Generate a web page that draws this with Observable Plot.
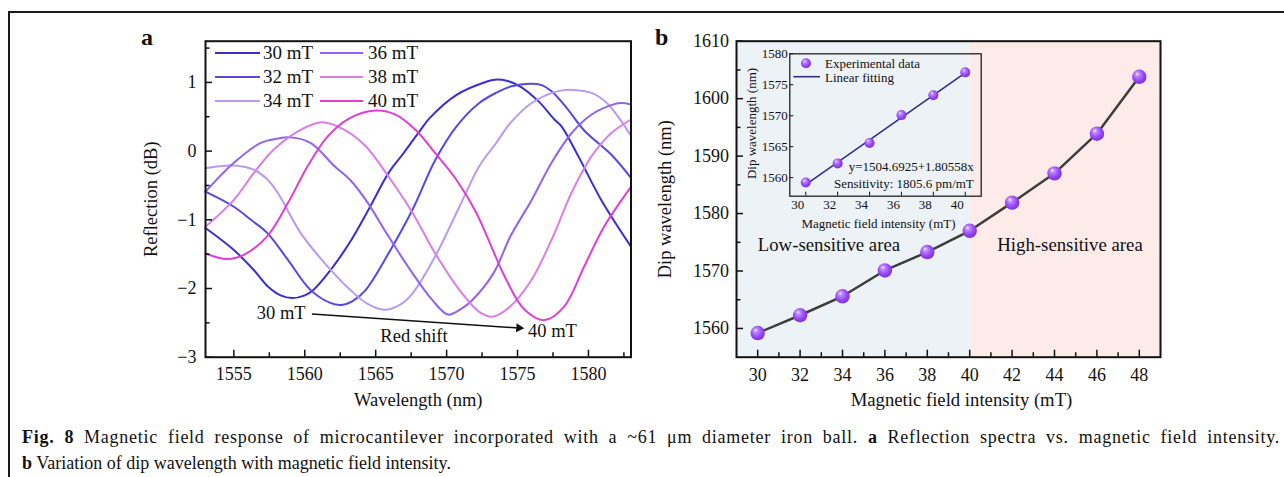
<!DOCTYPE html>
<html><head><meta charset="utf-8">
<script src="https://cdn.jsdelivr.net/npm/d3@7"></script>
<script src="https://cdn.jsdelivr.net/npm/@observablehq/plot@0.6"></script>
<style>
html,body{margin:0;padding:0;background:#fff;}
body{width:1284px;height:477px;position:relative;overflow:hidden;font-family:"Liberation Serif","Times New Roman",serif;color:#111;}
.abs{position:absolute;}
#border{position:absolute;left:8px;top:11px;width:1400px;height:600px;border-left:2px solid #1a1a1a;border-top:2px solid #1a1a1a;}
.lg{position:absolute;font-size:19px;line-height:19px;white-space:nowrap;}
.lgline{position:absolute;height:0;border-top:2px solid;}
.cap{position:absolute;left:22px;font-size:18px;white-space:nowrap;line-height:26px;}
.plab{position:absolute;font-weight:bold;font-size:24px;line-height:24px;}
</style>
</head><body>
<svg width="0" height="0" style="position:absolute">
  <defs>
    <radialGradient id="sphere" cx="0.45" cy="0.42" r="0.62" fx="0.34" fy="0.28">
      <stop offset="0" stop-color="#f6ecff"/>
      <stop offset="0.22" stop-color="#c08bff"/>
      <stop offset="0.65" stop-color="#9645f2"/>
      <stop offset="1" stop-color="#7a2fd9"/>
    </radialGradient>
  </defs>
</svg>
<div id="border"></div>
<div class="plab" style="left:141px;top:25px;">a</div>
<div class="plab" style="left:655px;top:25px;">b</div>
<div id="pa" class="abs" style="left:130px;top:20px;"></div>
<div id="pb" class="abs" style="left:640px;top:20px;"></div>
<div id="pi" class="abs" style="left:740px;top:40px;"></div>
<div id="legA"></div>
<div id="legI"></div>
<div id="cap1" class="cap" style="top:424px;"><b>Fig. 8</b> Magnetic field response of microcantilever incorporated with a ~61 μm diameter iron ball. <b>a</b> Reflection spectra vs. magnetic field intensity.</div>
<div class="cap" style="top:450px;"><b>b</b> Variation of dip wavelength with magnetic field intensity.</div>
<script>
// ---------- Panel a data: reflection spectra [wavelength nm, reflection dB] ----------
const s30 = [[1553,-1.12],[1555,-1.44],[1556.4,-1.73],[1557.4,-1.97],[1558.3,-2.10],[1559.1,-2.14],[1560.0,-2.10],[1560.6,-2.02],[1562.0,-1.68],[1563.2,-1.32],[1564.5,-0.85],[1565.9,-0.32],[1567.0,-0.02],[1568.1,0.29],[1568.8,0.48],[1570.7,0.82],[1572.8,1.01],[1573.4,1.04],[1574.3,1.02],[1575.2,0.94],[1576.5,0.72],[1577.6,0.46],[1578.1,0.36],[1579.3,-0.08],[1580.9,-0.71],[1583,-1.39]];
const s32 = [[1553,-0.59],[1555,-0.81],[1556.2,-1.0],[1557.35,-1.19],[1558.8,-1.58],[1560.4,-2.02],[1561.8,-2.21],[1562.6,-2.24],[1563.4,-2.18],[1564.3,-2.02],[1565.9,-1.49],[1567.6,-0.85],[1569.2,-0.13],[1570.7,0.36],[1572.3,0.70],[1573.5,0.85],[1574.5,0.94],[1575.9,0.98],[1576.7,0.96],[1577.4,0.87],[1578.5,0.62],[1579.7,0.30],[1581.6,-0.05],[1583,-0.39]];
const s34 = [[1553,-0.25],[1554,-0.22],[1555,-0.21],[1556.4,-0.27],[1557.3,-0.40],[1558.1,-0.61],[1559.7,-1.19],[1561.4,-1.63],[1563.1,-2.0],[1564.4,-2.22],[1565.6,-2.31],[1566.7,-2.24],[1567.6,-2.07],[1569.2,-1.53],[1570.9,-0.81],[1572.3,-0.22],[1573.5,0.12],[1574.5,0.41],[1576,0.70],[1577.8,0.87],[1579.0,0.89],[1580.3,0.84],[1581.3,0.70],[1582.2,0.47],[1583,0.22]];
const s36 = [[1553,-0.59],[1555,-0.17],[1556.9,0.12],[1558,0.18],[1559,0.20],[1560.4,0.12],[1562.1,-0.22],[1563.2,-0.42],[1564.3,-0.71],[1565.9,-1.24],[1567.6,-1.78],[1569.0,-2.17],[1570.1,-2.38],[1571.0,-2.30],[1571.8,-2.17],[1573.3,-1.78],[1574.5,-1.24],[1576,-0.71],[1577.4,-0.17],[1578.8,0.26],[1580.2,0.53],[1581.6,0.67],[1582.3,0.70],[1583,0.68]];
const s38 = [[1553,-1.10],[1555,-0.71],[1556.4,-0.32],[1557.8,0.02],[1559.7,0.31],[1561.2,0.42],[1562.8,0.31],[1564.3,0.07],[1565.9,-0.37],[1567.6,-0.90],[1569.2,-1.49],[1570.9,-2.02],[1572.3,-2.34],[1573.25,-2.41],[1574.5,-2.26],[1576,-1.87],[1577.4,-1.29],[1578.8,-0.61],[1580.2,-0.08],[1581.6,0.26],[1583,0.46]];
const s40 = [[1553,-1.49],[1554.5,-1.57],[1555.7,-1.51],[1557.35,-1.24],[1558.8,-0.76],[1560.2,-0.22],[1561.6,0.21],[1563,0.46],[1565,0.59],[1566.4,0.53],[1567.8,0.31],[1569.2,-0.03],[1570.7,-0.42],[1572.1,-0.90],[1573.3,-1.46],[1574.1,-1.83],[1575.5,-2.31],[1576.9,-2.46],[1578.3,-2.26],[1579.7,-1.68],[1581.1,-1.10],[1583,-0.52]];
const seriesNames = ["30 mT","32 mT","34 mT","36 mT","38 mT","40 mT"];
const seriesData = [s30, s32, s34, s36, s38, s40];
const seriesColors = ["#3b2dd6","#5549e2","#b89af2","#9163ee","#da7ee6","#df3fd3"];
const aXTicks = [1555,1560,1565,1570,1575,1580];
const aXMinor = [1557.5,1562.5,1567.5,1572.5,1577.5,1582.5];
const aYTicks = [-3,-2,-1,0,1];
const aYMinor = [-2.5,-1.5,-0.5,0.5,1.5];

// ---------- Panel b data ----------
const fieldB = [30,32,34,36,38,40,42,44,46,48];
const dipB = [1559.2,1562.3,1565.6,1570.1,1573.3,1577.0,1581.9,1587.0,1593.9,1603.8];
const bXTicks = [30,32,34,36,38,40,42,44,46,48];
const bXMinor = [31,33,35,37,39,41,43,45,47];
const bYTicks = [1560,1570,1580,1590,1600,1610];
const bYMinor = [1565,1575,1585,1595,1605];
const lowZone = [29,40];
const highZone = [40,49];
// inset
const fieldI = [30,32,34,36,38,40];
const dipI = [1559.2,1562.3,1565.6,1570.1,1573.3,1577.0];
const fitX = [30,40];
const fitY = [1558.86,1576.91];
const iXTicks = [30,32,34,36,38,40];
const iYTicks = [1560,1565,1570,1575,1580];

const FONT = "Liberation Serif, Times New Roman, serif";
const INK = "#111";

// ---------- Panel a ----------
(function(){
  const W=510,H=395,mL=75,mR=9.5,mT=20.7,mB=58.3;
  const fw=W-mL-mR, fh=H-mT-mB;
  const marks = [];
  seriesData.forEach((s,i)=>marks.push(Plot.line(s,{x:d=>d[0],y:d=>d[1],stroke:seriesColors[i],strokeWidth:2,curve:"catmull-rom"})));
  marks.push(
    Plot.tickX(aXTicks,{x:d=>d,insetTop:fh-7,stroke:INK,strokeWidth:1.5}),
    Plot.tickX(aXMinor,{x:d=>d,insetTop:fh-4.5,stroke:INK,strokeWidth:1.5}),
    Plot.tickY(aYTicks,{y:d=>d,insetRight:fw-7,stroke:INK,strokeWidth:1.5}),
    Plot.tickY(aYMinor,{y:d=>d,insetRight:fw-4.5,stroke:INK,strokeWidth:1.5}),
    Plot.frame({stroke:INK,strokeWidth:2}),
    Plot.axisX(aXTicks,{tickSize:0,tickPadding:10,tickFormat:"d",label:null,fontSize:18,fill:INK}),
    Plot.axisY(aYTicks,{tickSize:0,tickPadding:9,tickFormat:"d",label:null,fontSize:18,fill:INK}),
    Plot.text(["Wavelength (nm)"],{text:d=>d,frameAnchor:"bottom",lineAnchor:"middle",textAnchor:"middle",dy:43.3,fontSize:18.5,fill:INK}),
    Plot.text(["Reflection (dB)"],{text:d=>d,frameAnchor:"left",lineAnchor:"middle",textAnchor:"middle",rotate:-90,dx:-54,fontSize:18.5,fill:INK}),
    // annotations
    Plot.link([0],{x1:[1560.5],y1:[-2.37],x2:[1575.1],y2:[-2.575],stroke:INK,strokeWidth:1.5}),
    Plot.dot([0],{x:[1575.48],y:[-2.58],dx:-5.4,dy:-0.4,symbol:"triangle",r:3.4,rotate:93.9,fill:INK,stroke:"none"}),
    Plot.text(["30 mT"],{text:d=>d,x:[1560.06],y:[-2.355],textAnchor:"end",fontSize:18.5,fill:INK}),
    Plot.text(["40 mT"],{text:d=>d,x:[1575.74],y:[-2.62],textAnchor:"start",fontSize:18.5,fill:INK}),
    Plot.text(["Red shift"],{text:d=>d,x:[1567.7],y:[-2.69],textAnchor:"middle",fontSize:18.5,fill:INK})
  );
  const p = Plot.plot({width:W,height:H,marginLeft:mL,marginRight:mR,marginTop:mT,marginBottom:mB,
    x:{domain:[1553,1583]},y:{domain:[-3,1.6]},
    style:{fontFamily:FONT,fontSize:"18px",background:"transparent",color:INK},marks});
  document.getElementById("pa").appendChild(p);
})();

// legend a (HTML)
(function(){
  const el=document.getElementById("legA");
  const rows=[53.3,77.3,100.7];
  const cols=[{l1:215,l2:260,t:263},{l1:320,l2:363,t:368}];
  seriesNames.forEach((n,i)=>{
    const c=cols[Math.floor(i/3)], r=rows[i%3];
    const ln=document.createElement("div");ln.className="lgline";
    ln.style.cssText=`left:${c.l1}px;top:${r-1}px;width:${c.l2-c.l1}px;border-color:${seriesColors[i]}`;
    el.appendChild(ln);
    const t=document.createElement("div");t.className="lg";t.textContent=n;
    t.style.cssText=`left:${c.t}px;top:${r-10}px;`;
    el.appendChild(t);
  });
})();

// ---------- Panel b ----------
(function(){
  const W=640,H=395,mL=96,mR=120,mT=20.7,mB=58.3;
  const fw=W-mL-mR, fh=H-mT-mB;
  const pts=fieldB.map((f,i)=>({f,d:dipB[i]}));
  const p=Plot.plot({width:W,height:H,marginLeft:mL,marginRight:mR,marginTop:mT,marginBottom:mB,
    x:{domain:[29,49]},y:{domain:[1555,1610]},
    style:{fontFamily:FONT,fontSize:"18px",background:"transparent",color:INK},
    marks:[
      Plot.rect([lowZone],{x1:d=>d[0],x2:d=>d[1],fill:"#edf2f6"}),
      Plot.rect([highZone],{x1:d=>d[0],x2:d=>d[1],fill:"#fcebe8"}),
      Plot.tickX(bXTicks,{x:d=>d,insetTop:fh-7,stroke:INK,strokeWidth:1.5}),
      Plot.tickX(bXMinor,{x:d=>d,insetTop:fh-4.5,stroke:INK,strokeWidth:1.5}),
      Plot.tickY(bYTicks,{y:d=>d,insetRight:fw-7,stroke:INK,strokeWidth:1.5}),
      Plot.tickY(bYMinor,{y:d=>d,insetRight:fw-4.5,stroke:INK,strokeWidth:1.5}),
      Plot.line(pts,{x:"f",y:"d",stroke:"#3d3d3d",strokeWidth:2.5}),
      Plot.dot(pts,{x:"f",y:"d",r:7.2,fill:"url(#sphere)",stroke:"none"}),
      Plot.frame({stroke:INK,strokeWidth:2}),
      Plot.axisX(bXTicks,{tickSize:0,tickPadding:11,tickFormat:"d",label:null,fontSize:18,fill:INK}),
      Plot.axisY(bYTicks,{tickSize:0,tickPadding:7.5,tickFormat:"d",label:null,fontSize:18,fill:INK}),
      Plot.text(["Magnetic field intensity (mT)"],{text:d=>d,frameAnchor:"bottom",lineAnchor:"middle",textAnchor:"middle",dx:13,dy:43.3,fontSize:18.7,fill:INK}),
      Plot.text(["Dip wavelength (nm)"],{text:d=>d,frameAnchor:"left",lineAnchor:"middle",textAnchor:"middle",rotate:-90,dx:-71,fontSize:18.5,fill:INK}),
      Plot.text(["Low-sensitive area"],{text:d=>d,x:[30.0],y:[1574.5],textAnchor:"start",fontSize:18.8,fill:INK}),
      Plot.text(["High-sensitive area"],{text:d=>d,x:[41.3],y:[1574.5],textAnchor:"start",fontSize:18.8,fill:INK})
    ]});
  document.getElementById("pb").appendChild(p);
})();

// ---------- Inset ----------
(function(){
  const W=250,H=195,mL=49.3,mR=9.3,mT=13.3,mB=39.3;
  const fw=W-mL-mR, fh=H-mT-mB;
  const pts=fieldI.map((f,i)=>({f,d:dipI[i]}));
  const fit=fitX.map((f,i)=>({f,d:fitY[i]}));
  const p=Plot.plot({width:W,height:H,marginLeft:mL,marginRight:mR,marginTop:mT,marginBottom:mB,
    x:{domain:[29,41]},y:{domain:[1557,1580]},
    style:{fontFamily:FONT,fontSize:"13px",background:"transparent",color:INK},
    marks:[
      Plot.tickX(iXTicks,{x:d=>d,insetTop:fh-4,stroke:INK,strokeWidth:1}),
      Plot.tickY(iYTicks,{y:d=>d,insetRight:fw-4,stroke:INK,strokeWidth:1}),
      Plot.line(fit,{x:"f",y:"d",stroke:"#2e2e8e",strokeWidth:1.6}),
      Plot.dot(pts,{x:"f",y:"d",r:5,fill:"url(#sphere)",stroke:"none"}),
      Plot.frame({stroke:"#222",strokeWidth:1.3}),
      Plot.axisX(iXTicks,{tickSize:0,tickPadding:4,dx:-8,tickFormat:"d",label:null,fontSize:13,fill:INK}),
      Plot.axisY(iYTicks,{tickSize:0,tickPadding:2,tickFormat:"d",label:null,fontSize:13,fill:INK}),
      Plot.text(["Magnetic field intensity (mT)"],{text:d=>d,frameAnchor:"bottom",lineAnchor:"middle",textAnchor:"middle",dx:-7,dy:27.6,fontSize:13,fill:INK}),
      Plot.text(["Dip wavelength (nm)"],{text:d=>d,frameAnchor:"left",lineAnchor:"middle",textAnchor:"middle",rotate:-90,dx:-37.6,dy:-1.5,fontSize:13,fill:INK}),
      Plot.text(["y=1504.6925+1.80558x"],{text:d=>d,frameAnchor:"bottom-right",lineAnchor:"middle",textAnchor:"end",dx:-7.4,dy:-29,fontSize:13,fill:INK}),
      Plot.text(["Sensitivity: 1805.6 pm/mT"],{text:d=>d,frameAnchor:"bottom-right",lineAnchor:"middle",textAnchor:"end",dx:-7.4,dy:-12.4,fontSize:13,fill:INK})
    ]});
  document.getElementById("pi").appendChild(p);
})();

// inset legend (HTML + small svg)
(function(){
  const el=document.getElementById("legI");
  el.innerHTML=`<svg class="abs" style="left:790px;top:55px;overflow:visible" width="40" height="30">
    <circle cx="16" cy="8.3" r="5" fill="url(#sphere)"/>
    <line x1="3.3" x2="30" y1="21.7" y2="21.7" stroke="#2e2e8e" stroke-width="1.6"/></svg>
    <div class="abs" style="left:825px;top:56px;font-size:13px;line-height:15px;white-space:nowrap;">Experimental data</div>
    <div class="abs" style="left:825px;top:69.5px;font-size:13px;line-height:15px;white-space:nowrap;">Linear fitting</div>`;
})();

// justify caption line 1 to the full width (spread over letters and word gaps)
(function(){
  const c=document.getElementById("cap1");
  c.style.letterSpacing="0.75px";
  const w=c.getBoundingClientRect().width;
  const spaces=(c.textContent.match(/ /g)||[]).length;
  const target=1280-22;
  if(spaces>0 && w<target) c.style.wordSpacing=((target-w)/spaces)+"px";
})();
</script>
</body></html>
